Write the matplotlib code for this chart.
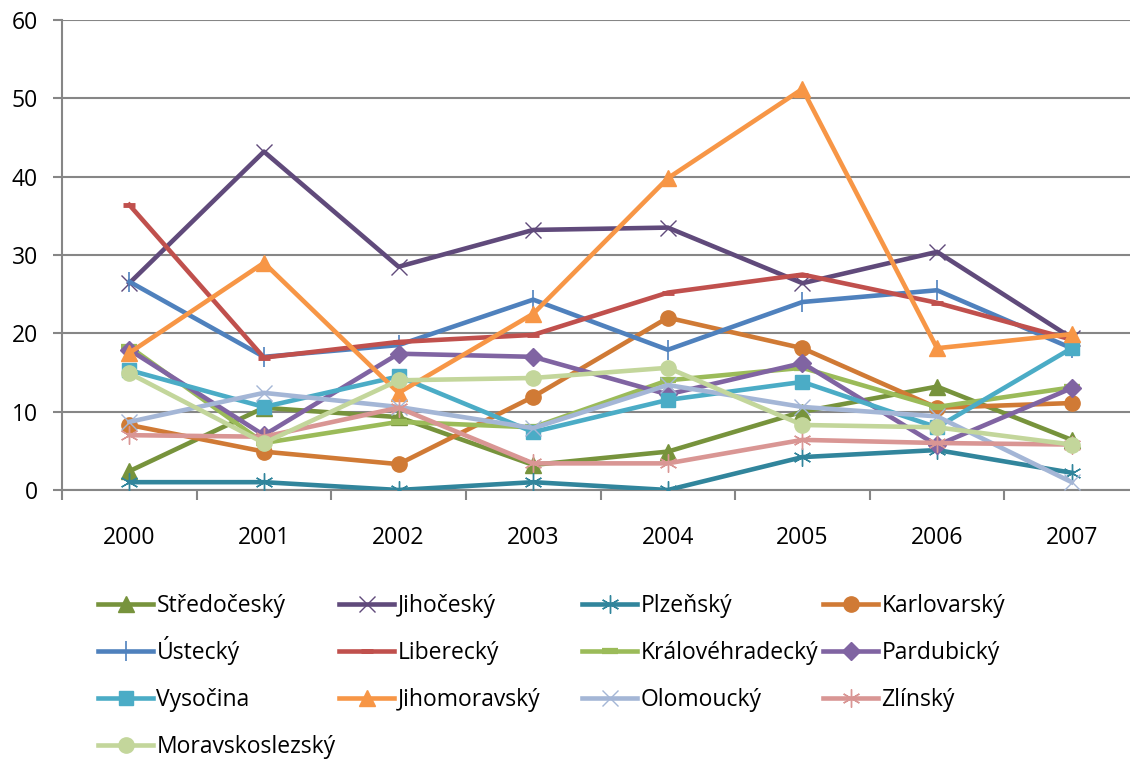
import matplotlib
matplotlib.use("Agg")
import matplotlib.pyplot as plt
from matplotlib.ticker import FixedLocator, NullFormatter

plt.rcParams['font.family'] = ['Open Sans', 'DejaVu Sans']

years = ['2000', '2001', '2002', '2003', '2004', '2005', '2006', '2007']

regions = ['Středočeský', 'Jihočeský', 'Plzeňský', 'Karlovarský',
           'Ústecký', 'Liberecký', 'Královéhradecký', 'Pardubický',
           'Vysočina', 'Jihomoravský', 'Olomoucký', 'Zlínský',
           'Moravskoslezský']

stredocesky = [2.4, 10.5, 9.3, 3.2, 4.9, 10.0, 13.2, 6.4]
jihocesky = [26.4, 43.2, 28.5, 33.2, 33.5, 26.4, 30.4, 19.4]
plzensky = [1.0, 1.0, 0.0, 1.0, 0.0, 4.2, 5.1, 2.2]
karlovarsky = [8.3, 4.9, 3.3, 11.9, 22.0, 18.1, 10.5, 11.1]
ustecky = [26.6, 17.0, 18.5, 24.3, 17.9, 24.0, 25.5, 18.1]
liberecky = [36.4, 16.9, 18.9, 19.8, 25.2, 27.5, 23.9, 19.2]
kralovehradecky = [18.3, 6.0, 8.7, 8.0, 14.0, 15.6, 10.6, 13.1]
pardubicky = [17.9, 7.0, 17.4, 17.0, 12.2, 16.2, 5.7, 13.0]
vysocina = [15.3, 10.6, 14.5, 7.4, 11.5, 13.8, 8.0, 18.1]
jihomoravsky = [17.5, 29.0, 12.4, 22.5, 39.8, 51.2, 18.1, 19.9]
olomoucky = [8.7, 12.4, 10.6, 7.9, 13.4, 10.6, 9.4, 1.0]
zlinsky = [7.0, 6.8, 10.5, 3.4, 3.4, 6.4, 6.0, 5.8]
moravskoslezsky = [14.9, 6.0, 14.0, 14.3, 15.6, 8.3, 8.0, 5.8]

series = [stredocesky, jihocesky, plzensky, karlovarsky, ustecky, liberecky,
          kralovehradecky, pardubicky, vysocina, jihomoravsky, olomoucky,
          zlinsky, moravskoslezsky]

colors = ['#77933C', '#604A7B', '#31859C', '#D07A35', '#4F81BD', '#C0504D',
          '#9BBB59', '#8064A2', '#4BACC6', '#F79646', '#A4B6D6', '#D99694',
          '#C3D69B']

star = (6, 2, 0)
# marker, size, edge width
markers = [('^', 11, 1), ('x', 12, 1), (star, 13, 1), ('o', 11, 1),
           ('|', 14, 1.2), ('_', 9, 3.5), ('_', 12, 4.5), ('D', 9, 1),
           ('s', 10, 1), ('^', 12, 1), ('x', 12, 1), (star, 13, 1),
           ('o', 11, 1)]

fig = plt.figure(figsize=(11.3, 7.64), dpi=100)
ax = fig.add_axes([62 / 1130, 274 / 764, 1077 / 1130, 470 / 764])

x = list(range(len(years)))
handles = []
for i, (vals, name) in enumerate(zip(series, regions)):
    m, ms, mew = markers[i]
    h, = ax.plot(x, vals, color=colors[i], lw=3.3, marker=m, markersize=ms,
                 markeredgewidth=mew, markerfacecolor=colors[i],
                 markeredgecolor=colors[i], label=name, zorder=3 + i)
    handles.append(h)

ax.set_xlim(-0.5, 7.5)
ax.set_ylim(0, 60)
ax.set_yticks(range(0, 61, 10))
ax.yaxis.grid(True, color='#868686', lw=1.5)
ax.set_axisbelow(True)

ax.set_xticks(x)
ax.set_xticklabels(years)
ax.xaxis.set_minor_locator(FixedLocator([i - 0.5 for i in range(9)]))
ax.xaxis.set_minor_formatter(NullFormatter())
ax.tick_params(axis='x', which='major', length=0, pad=26, labelsize=16.5)
ax.tick_params(axis='x', which='minor', length=7, width=1.5, color='#868686')
ax.tick_params(axis='y', length=6.5, width=1.5, color='#868686',
               labelsize=16.5, pad=11)

for s in ['top', 'right']:
    ax.spines[s].set_visible(False)
for s in ['left', 'bottom']:
    ax.spines[s].set_color('#868686')
    ax.spines[s].set_linewidth(1.5)

# legend laid out like Excel: 4 fixed-width columns, rows aligned on the baseline
col_x = [98, 339, 582, 823]
row_bottom = [618, 665, 712, 759]
for i, h in enumerate(handles):
    r, c = divmod(i, 4)
    fig.legend(handles=[h], loc='lower left',
               bbox_to_anchor=(col_x[c] / 1130, 1 - row_bottom[r] / 764),
               frameon=False, fontsize=16.5, handlelength=2.4,
               handletextpad=0.15, borderaxespad=0, borderpad=0)

fig.savefig('out.png', dpi=100)
